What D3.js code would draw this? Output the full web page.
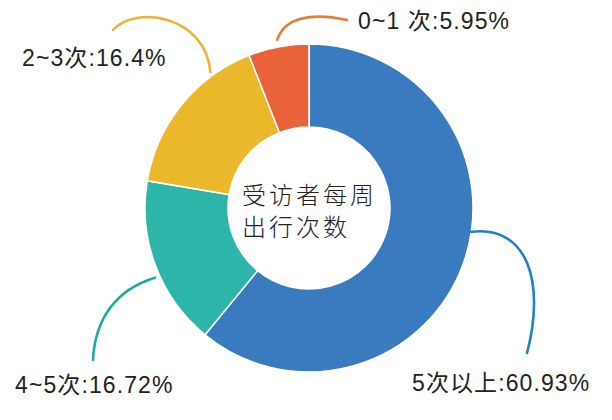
<!DOCTYPE html>
<html>
<head>
<meta charset="utf-8">
<script src="https://cdn.jsdelivr.net/npm/d3@7"></script>
<style>
  body { margin: 0; background: #fff; }
  text { font-family: "Liberation Sans", Arial, "Noto Sans CJK SC", sans-serif; }
</style>
</head>
<body>
<svg id="chart"></svg>
<script>
// share of respondents by weekly trips, clockwise from 12 o'clock
const categories = ["5次以上", "4~5次", "2~3次", "0~1 次"];
const values = [60.93, 16.72, 16.4, 5.95];
const colors = ["#3a7bbf", "#2db5a9", "#eab82a", "#e8633a"];
const leaderColors = ["#1f82c4", "#1fa9a1", "#e9b53a", "#e27d3b"];
const centerTitle = ["受访者每周", "出行次数"];

const width = 612, height = 420;
const cx = 309, cy = 208, outerR = 164, innerR = 81;

// label placement and leader curve shape per slice (layout only)
const layout = [
  { nudge: -11.3, r: 164, label: [412, 391], end: [527, 353], c1: [58, -7], c2: [18, -68] },
  { nudge: -3.8, r: 169, label: [15, 393], end: [93, 360], c1: [-40, 12], c2: [2, -40] },
  { nudge: 15, r: 168, label: [22, 66], end: [113, 30], c1: [-5, -57], c2: [22, -25] },
  { nudge: 0, r: 171, label: [358, 29], end: [347, 20], c1: [7, -22], c2: [-37, -8] }
];

const svg = d3.select("#chart")
  .attr("width", width)
  .attr("height", height);

const g = svg.append("g")
  .attr("transform", `translate(${cx},${cy})`);

const pie = d3.pie().sort(null).value(d => d);
const arcs = pie(values);

const arc = d3.arc()
  .innerRadius(innerR)
  .outerRadius(outerR);

g.selectAll(".slice")
  .data(arcs)
  .join("path")
  .attr("class", "slice")
  .attr("d", arc)
  .attr("fill", (d, i) => colors[i])
  .attr("stroke", "#fff")
  .attr("stroke-width", 1.5);

// leader curves, starting from the slice at its (nudged) mid angle
const leaders = svg.append("g").attr("class", "leaders");
arcs.forEach((d, i) => {
  const L = layout[i];
  const a = (d.startAngle + d.endAngle) / 2 + L.nudge * Math.PI / 180;
  const sx = cx + L.r * Math.sin(a);
  const sy = cy - L.r * Math.cos(a);
  const p = d3.path();
  p.moveTo(sx, sy);
  p.bezierCurveTo(sx + L.c1[0], sy + L.c1[1],
    L.end[0] + L.c2[0], L.end[1] + L.c2[1],
    L.end[0], L.end[1]);
  leaders.append("path")
    .attr("d", p.toString())
    .attr("fill", "none")
    .attr("stroke", leaderColors[i])
    .attr("stroke-width", 2.6)
    .attr("stroke-linecap", "round");
});

svg.append("g").attr("class", "labels")
  .selectAll("text")
  .data(arcs)
  .join("text")
  .attr("x", (d, i) => layout[i].label[0])
  .attr("y", (d, i) => layout[i].label[1])
  .attr("font-size", 23)
  .attr("letter-spacing", 1.1)
  .attr("fill", "#222")
  .text((d, i) => `${categories[i]}:${values[i]}%`);

svg.append("g").attr("class", "center-title")
  .selectAll("text")
  .data(centerTitle)
  .join("text")
  .attr("x", 242)
  .attr("y", (d, i) => 204 + i * 32)
  .attr("font-size", 24)
  .attr("letter-spacing", 3)
  .attr("fill", "#222")
  .style("font-family", "'Noto Sans CJK SC', sans-serif")
  .style("font-weight", 300)
  .text(d => d);
</script>
</body>
</html>
